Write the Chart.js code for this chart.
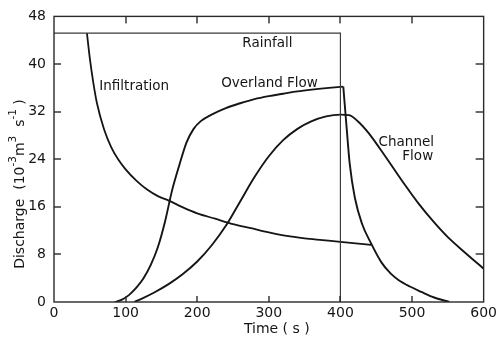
<!DOCTYPE html>
<html>
<head>
<meta charset="utf-8">
<script src="https://cdn.jsdelivr.net/npm/chart.js@4/dist/chart.umd.min.js"></script>
<style>
  html, body { margin: 0; padding: 0; background: #fff; }
  #wrap { width: 500px; height: 338px; position: relative; }
</style>
</head>
<body>
<div id="wrap"><canvas id="c" width="500" height="338"></canvas></div>
<script>
// ---- data (time in s, discharge in 10^-3 m^3 s^-1) ----
const rainfallT = [0, 400, 400];
const rainfallQ = [45.2, 45.2, 0];

const infiltrationT = [46, 50, 55, 60, 70, 80, 90, 100, 115, 130, 145, 161, 180, 200, 225, 250, 275, 300, 325, 350, 375, 400, 443];
const infiltrationQ = [45.2, 41.0, 36.8, 33.4, 29.0, 26.0, 23.9, 22.3, 20.4, 18.9, 17.8, 17.0, 15.9, 14.9, 14.0, 13.1, 12.4, 11.7, 11.1, 10.7, 10.4, 10.1, 9.6];

// overland flow: rising limb (to the end of rain) and recession limb
const overlandRiseT = [85, 95, 105, 115, 125, 135, 145, 155, 165, 175, 185, 195, 205, 220, 240, 260, 280, 300, 320, 340, 360, 380, 404];
const overlandRiseQ = [0, 0.4, 1.2, 2.4, 4.0, 6.2, 9.2, 13.5, 18.8, 23.0, 26.8, 29.1, 30.4, 31.5, 32.6, 33.4, 34.1, 34.6, 35.0, 35.4, 35.7, 35.95, 36.2];
const overlandFallT = [404, 409, 413, 420, 430, 443, 457, 470, 481, 497, 513, 530, 552];
const overlandFallQ = [36.2, 28.8, 23.2, 17.6, 13.2, 9.8, 6.7, 4.8, 3.7, 2.6, 1.7, 0.8, 0];

const channelT = [112, 125, 140, 160, 180, 200, 220, 240, 260, 280, 300, 320, 340, 360, 380, 400, 412, 425, 440, 455, 470, 490, 510, 530, 550, 575, 600];
const channelQ = [0, 0.7, 1.6, 3.0, 4.7, 6.8, 9.5, 12.8, 16.9, 21.0, 24.5, 27.2, 29.1, 30.4, 31.2, 31.5, 31.4, 30.3, 28.3, 25.8, 23.2, 19.7, 16.4, 13.5, 10.9, 8.2, 5.6];

const xTicks = [0, 100, 200, 300, 400, 500, 600];
const yTicks = [0, 8, 16, 24, 32, 40, 48];

// curve annotations (text, anchor in data units)
const curveLabels = [
  { text: "Rainfall", t: 298, q: 43.5 },
  { text: "Infiltration", t: 112, q: 36.3 },
  { text: "Overland Flow", t: 301, q: 36.8 },
  { text: "Channel", t: 492, q: 26.8 },
  { text: "Flow", t: 508, q: 24.4 }
];

const pts = (xs, ys) => xs.map((x, i) => ({ x: x, y: ys[i] }));
const FONT = "'DejaVu Sans', sans-serif";
const INK = '#151515';

const framePlugin = {
  id: 'frame',
  afterDraw(chart) {
    const ctx = chart.ctx;
    const a = chart.chartArea;
    const x = chart.scales.x, y = chart.scales.y;
    ctx.save();
    ctx.strokeStyle = '#2a2a2a';
    ctx.lineWidth = 1.4;
    ctx.strokeRect(a.left, a.top, a.right - a.left, a.bottom - a.top);

    // inward tick marks on all four sides (interior ticks only)
    ctx.fillStyle = '#2a2a2a';
    xTicks.slice(1, -1).forEach(v => {
      const px = Math.round(x.getPixelForValue(v));
      ctx.fillRect(px - 0.7, a.bottom - 6, 1.4, 6);
      ctx.fillRect(px - 0.7, a.top, 1.4, 7);
    });
    yTicks.slice(1, -1).forEach(v => {
      const py = Math.round(y.getPixelForValue(v));
      ctx.fillRect(a.left, py - 0.7, 7, 1.4);
      ctx.fillRect(a.right - 8, py - 0.7, 8, 1.4);
    });

    // curve labels
    ctx.fillStyle = INK;
    ctx.font = "13.5px " + FONT;
    ctx.textAlign = 'center';
    ctx.textBaseline = 'middle';
    curveLabels.forEach(l => {
      ctx.fillText(l.text, x.getPixelForValue(l.t), y.getPixelForValue(l.q));
    });

    // x title
    ctx.font = "14px " + FONT;
    ctx.textBaseline = 'middle';
    ctx.fillText("Time ( s )", (a.left + a.right) / 2 + 8, 329);

    // y title (rotated, with superscripts)
    const parts = [
      ["Discharge  (10", false], ["-3", true], ["m", false], ["3", true],
      ["  s", false], ["-1", true], [" )", false]
    ];
    const normal = "14px " + FONT, sup = "10.5px " + FONT;
    let total = 0;
    parts.forEach(p => { ctx.font = p[1] ? sup : normal; total += ctx.measureText(p[0]).width; });
    ctx.save();
    ctx.translate(20, 184);
    ctx.rotate(-Math.PI / 2);
    ctx.textAlign = 'left';
    ctx.textBaseline = 'middle';
    let cx = -total / 2;
    parts.forEach(p => {
      ctx.font = p[1] ? sup : normal;
      ctx.fillText(p[0], cx, p[1] ? -7 : 0);
      cx += ctx.measureText(p[0]).width;
    });
    ctx.restore();
    ctx.restore();
  }
};

const lineDs = (label, data, width, color, mode) => ({
  label, data, showLine: true, pointRadius: 0, borderWidth: width,
  borderColor: color, fill: false,
  cubicInterpolationMode: mode, tension: 0
});

new Chart(document.getElementById('c'), {
  type: 'scatter',
  data: {
    datasets: [
      lineDs('Rainfall', pts(rainfallT, rainfallQ), 1.2, '#3a3a3a', 'default'),
      lineDs('Infiltration', pts(infiltrationT, infiltrationQ), 1.8, INK, 'monotone'),
      lineDs('Overland Flow', pts(overlandRiseT, overlandRiseQ), 1.9, INK, 'monotone'),
      lineDs('Overland Flow (recession)', pts(overlandFallT, overlandFallQ), 1.9, INK, 'monotone'),
      lineDs('Channel Flow', pts(channelT, channelQ), 1.9, INK, 'monotone')
    ]
  },
  options: {
    responsive: false,
    animation: false,
    events: [],
    layout: { padding: { top: 15, right: 14, left: 0, bottom: 0 } },
    plugins: { legend: { display: false }, tooltip: { enabled: false } },
    scales: {
      x: {
        type: 'linear', min: 0, max: 600,
        afterFit: s => { s.height = 36; },
        afterBuildTicks: s => { s.ticks = xTicks.map(v => ({ value: v })); },
        grid: { display: false, drawTicks: false },
        border: { display: false },
        ticks: { color: INK, font: { family: FONT, size: 14 }, padding: 3, maxRotation: 0, autoSkip: false }
      },
      y: {
        type: 'linear', min: 0, max: 48,
        afterFit: s => { s.width = 54; },
        afterBuildTicks: s => { s.ticks = yTicks.map(v => ({ value: v })); },
        grid: { display: false, drawTicks: false },
        border: { display: false },
        ticks: { color: INK, font: { family: FONT, size: 14 }, padding: 8, autoSkip: false }
      }
    }
  },
  plugins: [framePlugin]
});
</script>
</body>
</html>
